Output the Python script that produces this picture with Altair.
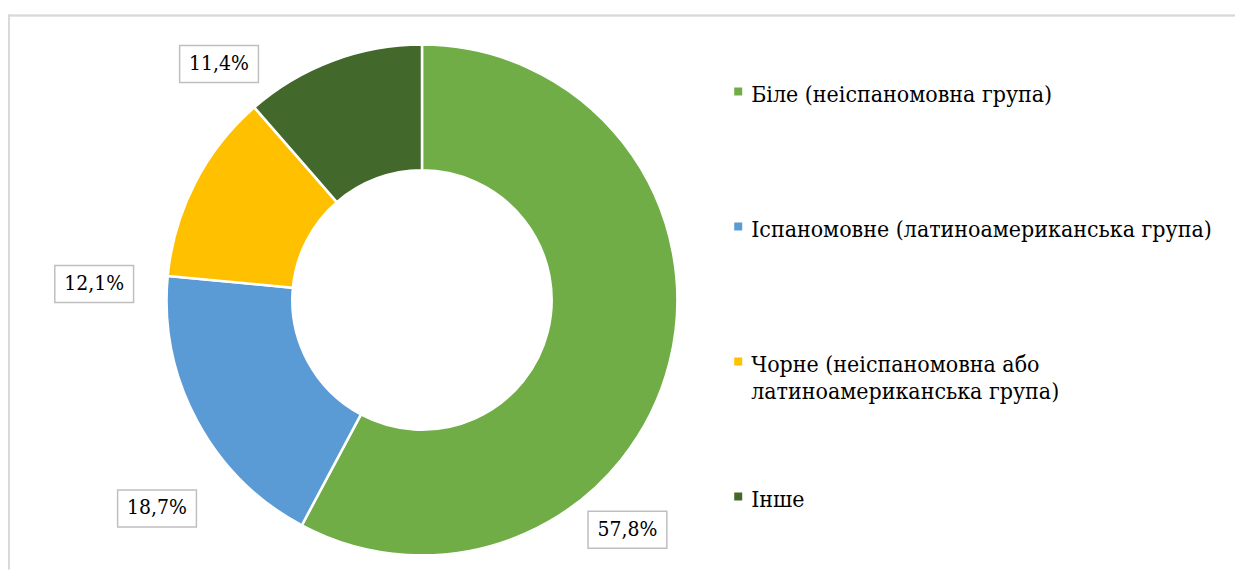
import altair as alt
import pandas as pd

# ---- data ----
categories = [
    "Біле (неіспаномовна група)",
    "Іспаномовне (латиноамериканська група)",
    "Чорне (неіспаномовна або латиноамериканська група)",
    "Інше",
]
legend_labels = [
    "Біле (неіспаномовна група)",
    "Іспаномовне (латиноамериканська група)",
    "Чорне (неіспаномовна або\nлатиноамериканська група)",
    "Інше",
]
values = [57.8, 18.7, 12.1, 11.4]
value_labels = ["57,8%", "18,7%", "12,1%", "11,4%"]
colors = ["#70AD47", "#5B9BD5", "#FFC000", "#43682B"]

# ---- layout (pixels / degrees) ----
W, H = 1230, 562
CX, CY = 415, 292
R_OUT, R_IN = 256, 130
LABEL_ANGLE = [138.2, 231.8, 272.8, 319.3]
LABEL_RADIUS = [309, 338, 329, 312]
BOX_W, BOX_H = 79, 37
FONT = "DejaVu Serif Condensed, DejaVu Serif"

df = pd.DataFrame({
    "category": categories,
    "legend": legend_labels,
    "value": values,
    "label": value_labels,
    "idx": list(range(len(categories))),
    "label_angle": LABEL_ANGLE,
    "label_r": LABEL_RADIUS,
})

color = alt.Color("category:N", scale=alt.Scale(domain=categories, range=colors), legend=None)
base = alt.Chart(df)

arc = base.mark_arc(outerRadius=R_OUT, innerRadius=R_IN, stroke="white", strokeWidth=2.5).encode(
    theta=alt.Theta("value:Q", stack=True),
    color=color,
    order=alt.Order("idx:Q"),
    x=alt.value(CX),
    y=alt.value(CY),
)

lab = base.transform_calculate(
    lx=f"{CX} + datum.label_r * sin(datum.label_angle * PI / 180)",
    ly=f"{CY} - datum.label_r * cos(datum.label_angle * PI / 180)",
).transform_calculate(
    bx0=f"datum.lx - {BOX_W / 2}",
    bx1=f"datum.lx + {BOX_W / 2}",
    by0=f"datum.ly - {BOX_H / 2}",
    by1=f"datum.ly + {BOX_H / 2}",
)

boxes = lab.mark_rect(fill="white", stroke="#BFBFBF", strokeWidth=1.5).encode(
    x=alt.X("bx0:Q", scale=None),
    x2="bx1:Q",
    y=alt.Y("by0:Q", scale=None),
    y2="by1:Q",
)
texts = lab.mark_text(font=FONT, fontSize=21, align="center", baseline="middle", color="black").encode(
    x=alt.X("lx:Q", scale=None),
    y=alt.Y("ly:Q", scale=None),
    text="label:N",
)

leg_y = alt.Y("idx:Q", scale=alt.Scale(domain=[0, 3], range=[83, 489]), axis=None)
leg_sq = base.mark_square(size=64, opacity=1).encode(
    x=alt.value(732), y=leg_y, color=color,
)
leg_tx = base.mark_text(font=FONT, fontSize=23, align="left", baseline="alphabetic", dy=11,
                        lineHeight=27, lineBreak="\n", color="black").encode(
    x=alt.value(745), y=leg_y, text="legend:N",
)

border_left = base.mark_rule(color="#D9D9D9", strokeWidth=1.5).encode(
    x=alt.value(0.75), y=alt.value(6), y2=alt.value(H)
)
border_top = base.mark_rule(color="#D9D9D9", strokeWidth=1.5).encode(
    x=alt.value(0), x2=alt.value(W), y=alt.value(6.75)
)

chart = alt.layer(border_left, border_top, arc, boxes, texts, leg_sq, leg_tx).resolve_scale(
    y="independent", x="independent"
).properties(
    width=W, height=H, padding=0, autosize=alt.AutoSizeParams(type="none"),
).configure(background="white").configure_view(stroke=None)

chart.save("out.html", embed_options={"renderer": "svg", "actions": False})
